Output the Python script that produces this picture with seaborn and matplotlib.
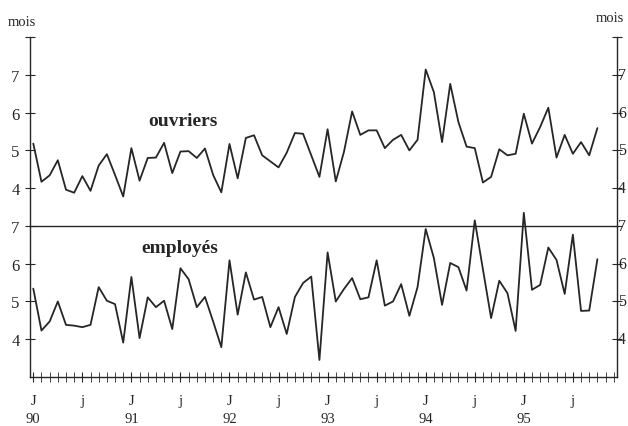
import numpy as np
import pandas as pd
import matplotlib
matplotlib.use("Agg")
import matplotlib.pyplot as plt
import seaborn as sns

# durée moyenne (mois), janvier 1990 -> octobre 1995
ouvriers = [5.18, 4.17, 4.34, 4.74, 3.96, 3.88, 4.32, 3.93, 4.60, 4.90, 4.35, 3.78,
            5.06, 4.20, 4.80, 4.81, 5.20, 4.40, 4.97, 4.98, 4.80, 5.05, 4.35, 3.89,
            5.17, 4.26, 5.33, 5.40, 4.87, 4.71, 4.55, 4.94, 5.46, 5.44, 4.87, 4.30,
            5.56, 4.18, 4.96, 6.03, 5.41, 5.53, 5.53, 5.06, 5.28, 5.41, 5.00, 5.28,
            7.14, 6.54, 5.22, 6.76, 5.75, 5.10, 5.06, 4.15, 4.30, 5.03, 4.87, 4.91,
            5.97, 5.18, 5.62, 6.13, 4.81, 5.41, 4.91, 5.22, 4.87, 5.59]
employes = [5.34, 4.23, 4.47, 5.00, 4.38, 4.36, 4.32, 4.38, 5.38, 5.02, 4.93, 3.91,
            5.65, 4.03, 5.11, 4.85, 5.02, 4.27, 5.88, 5.59, 4.85, 5.12, 4.47, 3.79,
            6.09, 4.65, 5.77, 5.05, 5.12, 4.32, 4.85, 4.14, 5.12, 5.49, 5.66, 3.45,
            6.30, 5.00, 5.33, 5.62, 5.06, 5.11, 6.09, 4.89, 5.00, 5.46, 4.62, 5.38,
            6.92, 6.15, 4.91, 6.02, 5.91, 5.29, 7.15, 5.85, 4.56, 5.55, 5.22, 4.22,
            7.35, 5.31, 5.44, 6.43, 6.10, 5.20, 6.77, 4.75, 4.76, 6.12]
annees = ["90", "91", "92", "93", "94", "95"]
n_mois = 72

df = pd.DataFrame({"mois": np.arange(len(ouvriers)),
                   "ouvriers": ouvriers, "employes": employes})

sns.set_style("ticks")
plt.rcParams["font.family"] = ["Liberation Serif", "DejaVu Serif"]

ink = "#262626"
fig = plt.figure(figsize=(6.28, 4.27), dpi=100)
ax1 = fig.add_axes([0.0478, 0.4684, 0.9347, 0.4426])
ax2 = fig.add_axes([0.0478, 0.1148, 0.9347, 0.3536])
ax2.patch.set_visible(False)
ax1.patch.set_visible(False)

sns.lineplot(data=df, x="mois", y="ouvriers", ax=ax1, color=ink, lw=1.3)
sns.lineplot(data=df, x="mois", y="employes", ax=ax2, color=ink, lw=1.3,
             clip_on=False)

for ax in (ax1, ax2):
    ax.set_xlim(-0.4, 71.4)
    ax.set_xlabel("")
    ax.set_ylabel("")
    ax.spines["top"].set_visible(False)
    for s in ("left", "right", "bottom"):
        ax.spines[s].set_color(ink)
        ax.spines[s].set_linewidth(1.0)
    ax.spines["bottom"].set_zorder(5)
    ax.tick_params(axis="y", left=True, right=True, labelleft=True,
                   labelright=False, direction="inout", length=7,
                   color=ink, labelcolor=ink, labelsize=12, pad=4)

ax1.set_ylim(3, 8)
ax1.set_yticks([4, 5, 6, 7, 8])
ax1.set_yticklabels(["4", "5", "6", "7", ""])
ax1.set_xticks([])
ax1.text(0.26, 0.56, "ouvriers", transform=ax1.transAxes, ha="center",
         va="center", fontsize=14, fontweight="bold", color=ink)

ax2.set_ylim(3, 7)
ax2.set_yticks([4, 5, 6, 7])
ax2.set_yticklabels(["4", "5", "6", "7"])
ax2.set_xticks(np.arange(n_mois), minor=True)
ax2.set_xticks(np.arange(0, n_mois, 6))
labels = []
for k in range(n_mois // 6):
    labels.append("J\n" + annees[k // 2] if k % 2 == 0 else "j\n ")
ax2.set_xticklabels(labels, linespacing=1.45)
ax2.tick_params(axis="x", which="both", direction="inout", length=7,
                color=ink, labelcolor=ink, labelsize=10.5, pad=9)
ax2.text(0.255, 0.86, "employés", transform=ax2.transAxes, ha="center",
         va="center", fontsize=14, fontweight="bold", color=ink)

# chiffres de l'axe de droite, serrés contre le bord de l'image
x_droite = (626 - 30) / 587
for ax, vals in ((ax1, [4, 5, 6, 7]), (ax2, [4, 5, 6, 7])):
    for v in vals:
        ax.text(x_droite, v, str(v), transform=ax.get_yaxis_transform(),
                ha="right", va="center", fontsize=11.5, color=ink,
                clip_on=False)

fig.text(8 / 628, 1 - 22 / 427, "mois", fontsize=10.5, color=ink, va="center")
fig.text(596 / 628, 1 - 18 / 427, "mois", fontsize=10.5, color=ink, va="center")

fig.savefig("out.png", dpi=100, facecolor="white")
